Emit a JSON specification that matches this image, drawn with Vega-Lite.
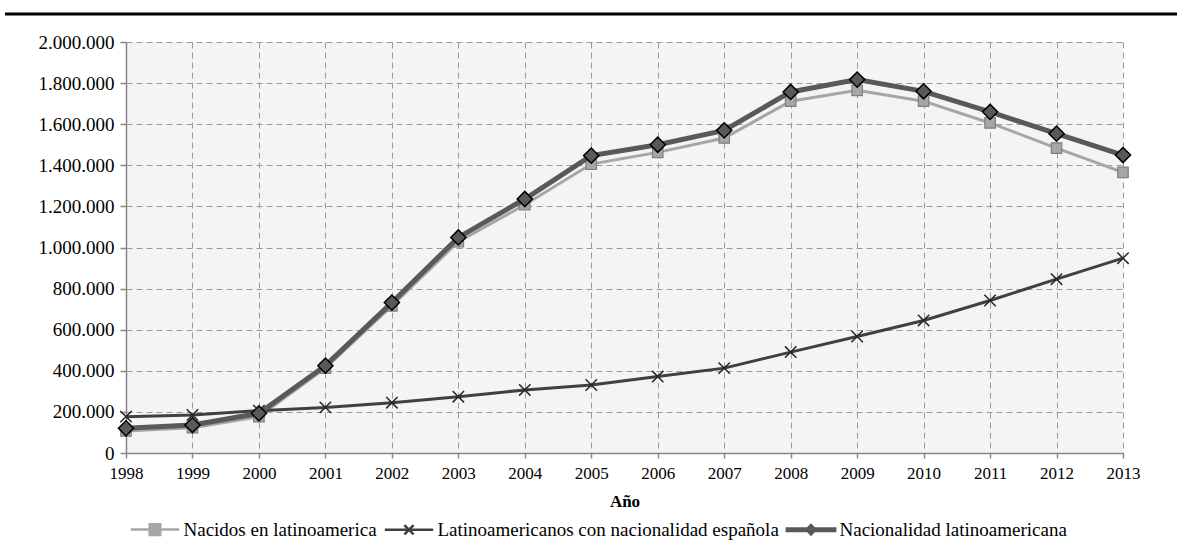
{
  "$schema": "https://vega.github.io/schema/vega-lite/v6.json",
  "width": 997,
  "height": 411,
  "autosize": "none",
  "padding": {"left": 126, "top": 42, "right": 54, "bottom": 102},
  "background": "#ffffff",
  "datasets": {
    "series": [
      {"anio": 1998, "serie": "Nacidos en latinoamerica", "valor": 107000},
      {"anio": 1999, "serie": "Nacidos en latinoamerica", "valor": 123000},
      {"anio": 2000, "serie": "Nacidos en latinoamerica", "valor": 177000},
      {"anio": 2001, "serie": "Nacidos en latinoamerica", "valor": 413000},
      {"anio": 2002, "serie": "Nacidos en latinoamerica", "valor": 716000},
      {"anio": 2003, "serie": "Nacidos en latinoamerica", "valor": 1028000},
      {"anio": 2004, "serie": "Nacidos en latinoamerica", "valor": 1208000},
      {"anio": 2005, "serie": "Nacidos en latinoamerica", "valor": 1406000},
      {"anio": 2006, "serie": "Nacidos en latinoamerica", "valor": 1463000},
      {"anio": 2007, "serie": "Nacidos en latinoamerica", "valor": 1533000},
      {"anio": 2008, "serie": "Nacidos en latinoamerica", "valor": 1712000},
      {"anio": 2009, "serie": "Nacidos en latinoamerica", "valor": 1765000},
      {"anio": 2010, "serie": "Nacidos en latinoamerica", "valor": 1712000},
      {"anio": 2011, "serie": "Nacidos en latinoamerica", "valor": 1606000},
      {"anio": 2012, "serie": "Nacidos en latinoamerica", "valor": 1484000},
      {"anio": 2013, "serie": "Nacidos en latinoamerica", "valor": 1366000},
      {"anio": 1998, "serie": "Latinoamericanos con nacionalidad española", "valor": 177000},
      {"anio": 1999, "serie": "Latinoamericanos con nacionalidad española", "valor": 185000},
      {"anio": 2000, "serie": "Latinoamericanos con nacionalidad española", "valor": 206000},
      {"anio": 2001, "serie": "Latinoamericanos con nacionalidad española", "valor": 222000},
      {"anio": 2002, "serie": "Latinoamericanos con nacionalidad española", "valor": 245000},
      {"anio": 2003, "serie": "Latinoamericanos con nacionalidad española", "valor": 274000},
      {"anio": 2004, "serie": "Latinoamericanos con nacionalidad española", "valor": 307000},
      {"anio": 2005, "serie": "Latinoamericanos con nacionalidad española", "valor": 331000},
      {"anio": 2006, "serie": "Latinoamericanos con nacionalidad española", "valor": 372000},
      {"anio": 2007, "serie": "Latinoamericanos con nacionalidad española", "valor": 413000},
      {"anio": 2008, "serie": "Latinoamericanos con nacionalidad española", "valor": 491000},
      {"anio": 2009, "serie": "Latinoamericanos con nacionalidad española", "valor": 567000},
      {"anio": 2010, "serie": "Latinoamericanos con nacionalidad española", "valor": 645000},
      {"anio": 2011, "serie": "Latinoamericanos con nacionalidad española", "valor": 742000},
      {"anio": 2012, "serie": "Latinoamericanos con nacionalidad española", "valor": 846000},
      {"anio": 2013, "serie": "Latinoamericanos con nacionalidad española", "valor": 948000},
      {"anio": 1998, "serie": "Nacionalidad latinoamericana", "valor": 120000},
      {"anio": 1999, "serie": "Nacionalidad latinoamericana", "valor": 136000},
      {"anio": 2000, "serie": "Nacionalidad latinoamericana", "valor": 193000},
      {"anio": 2001, "serie": "Nacionalidad latinoamericana", "valor": 425000},
      {"anio": 2002, "serie": "Nacionalidad latinoamericana", "valor": 732000},
      {"anio": 2003, "serie": "Nacionalidad latinoamericana", "valor": 1049000},
      {"anio": 2004, "serie": "Nacionalidad latinoamericana", "valor": 1236000},
      {"anio": 2005, "serie": "Nacionalidad latinoamericana", "valor": 1447000},
      {"anio": 2006, "serie": "Nacionalidad latinoamericana", "valor": 1500000},
      {"anio": 2007, "serie": "Nacionalidad latinoamericana", "valor": 1570000},
      {"anio": 2008, "serie": "Nacionalidad latinoamericana", "valor": 1757000},
      {"anio": 2009, "serie": "Nacionalidad latinoamericana", "valor": 1817000},
      {"anio": 2010, "serie": "Nacionalidad latinoamericana", "valor": 1760000},
      {"anio": 2011, "serie": "Nacionalidad latinoamericana", "valor": 1660000},
      {"anio": 2012, "serie": "Nacionalidad latinoamericana", "valor": 1554000},
      {"anio": 2013, "serie": "Nacionalidad latinoamericana", "valor": 1450000}
    ],
    "borde": [{"elemento": "linea superior"}]
  },
  "data": {"name": "series"},
  "layer": [
    {
      "data": {"name": "borde"},
      "mark": {"type": "rule", "color": "#000000", "strokeWidth": 3, "clip": false},
      "encoding": {
        "x": {"datum": 1996.18, "type": "quantitative", "scale": {"domain": [1998, 2013], "nice": false, "zero": false}, "title": "Año"},
        "x2": {"datum": 2016},
        "y": {"datum": 2136000, "type": "quantitative", "scale": {"domain": [0, 2000000], "nice": false}, "title": null}
      }
    },
    {
      "transform": [{"filter": {"field": "serie", "equal": "Nacidos en latinoamerica"}}],
      "mark": {"type": "line", "color": "#a6a6a6", "strokeWidth": 3},
      "encoding": {
        "x": {"field": "anio", "type": "quantitative", "title": "Año", "scale": {"domain": [1998, 2013], "nice": false, "zero": false},
          "axis": {"values": [1998,1999,2000,2001,2002,2003,2004,2005,2006,2007,2008,2009,2010,2011,2012,2013], "format": "d"}},
        "y": {"field": "valor", "type": "quantitative", "title": null, "scale": {"domain": [0, 2000000], "nice": false},
          "axis": {"values": [0,200000,400000,600000,800000,1000000,1200000,1400000,1600000,1800000,2000000], "format": ",d"}}
      }
    },
    {
      "transform": [{"filter": {"field": "serie", "equal": "Nacidos en latinoamerica"}}],
      "mark": {"type": "point", "shape": "square", "filled": true, "fill": "#a6a6a6", "stroke": "#7f7f7f", "strokeWidth": 1.2, "size": 110, "opacity": 1},
      "encoding": {
        "x": {"field": "anio", "type": "quantitative", "title": "Año"},
        "y": {"field": "valor", "type": "quantitative", "title": null}
      }
    },
    {
      "transform": [{"filter": {"field": "serie", "equal": "Latinoamericanos con nacionalidad española"}}],
      "mark": {"type": "line", "color": "#404040", "strokeWidth": 3},
      "encoding": {
        "x": {"field": "anio", "type": "quantitative", "title": "Año"},
        "y": {"field": "valor", "type": "quantitative", "title": null}
      }
    },
    {
      "transform": [{"filter": {"field": "serie", "equal": "Latinoamericanos con nacionalidad española"}}],
      "mark": {"type": "point", "shape": "M-1,-1L1,1M-1,1L1,-1", "filled": true, "fill": "transparent", "stroke": "#262626", "strokeWidth": 1.5, "size": 130, "opacity": 1},
      "encoding": {
        "x": {"field": "anio", "type": "quantitative", "title": "Año"},
        "y": {"field": "valor", "type": "quantitative", "title": null}
      }
    },
    {
      "transform": [{"filter": {"field": "serie", "equal": "Nacionalidad latinoamericana"}}],
      "mark": {"type": "line", "color": "#595959", "strokeWidth": 5},
      "encoding": {
        "x": {"field": "anio", "type": "quantitative", "title": "Año"},
        "y": {"field": "valor", "type": "quantitative", "title": null}
      }
    },
    {
      "transform": [{"filter": {"field": "serie", "equal": "Nacionalidad latinoamericana"}}],
      "mark": {"type": "point", "shape": "diamond", "filled": true, "fill": "#595959", "stroke": "#000000", "strokeWidth": 1.5, "size": 230, "opacity": 1},
      "encoding": {
        "x": {"field": "anio", "type": "quantitative", "title": "Año"},
        "y": {"field": "valor", "type": "quantitative", "title": null}
      }
    },
    {
      "mark": {"type": "point", "filled": true, "opacity": 0, "size": 484, "strokeWidth": 2.5},
      "encoding": {
        "x": {"field": "anio", "type": "quantitative", "title": "Año"},
        "y": {"field": "valor", "type": "quantitative", "title": null},
        "shape": {"field": "serie", "type": "nominal",
          "scale": {"domain": ["Nacidos en latinoamerica", "Latinoamericanos con nacionalidad española", "Nacionalidad latinoamericana"],
            "range": ["M-2.2,0H-0.5M0.5,0H2.2M-0.48,-0.48H0.48V0.48H-0.48Z", "M-2.2,0H2.2M-0.42,-0.42L0.42,0.42M-0.42,0.42L0.42,-0.42", "M-2.2,-0.11H-0.42V0.11H-2.2ZM0.42,-0.11H2.2V0.11H0.42ZM-0.42,0L0,-0.42L0.42,0L0,0.42Z"]},
          "legend": {"title": null, "orient": "bottom", "direction": "horizontal", "symbolSize": 484, "symbolStrokeWidth": 2.5, "symbolOpacity": 1, "symbolOffset": 11.5, "labelOffset": 16, "labelFont": "Liberation Serif", "labelFontSize": 19, "labelColor": "#000000", "labelLimit": 1000, "columnPadding": 2, "offset": 3, "padding": 5}
        },
        "fill": {"field": "serie", "type": "nominal",
          "scale": {"domain": ["Nacidos en latinoamerica", "Latinoamericanos con nacionalidad española", "Nacionalidad latinoamericana"], "range": ["#a6a6a6", "transparent", "#595959"]},
          "legend": {"title": null, "orient": "bottom", "direction": "horizontal", "symbolSize": 484, "symbolStrokeWidth": 2.5, "symbolOpacity": 1, "symbolOffset": 11.5, "labelOffset": 16, "labelFont": "Liberation Serif", "labelFontSize": 19, "labelColor": "#000000", "labelLimit": 1000, "columnPadding": 2, "offset": 3, "padding": 5}
        },
        "stroke": {"field": "serie", "type": "nominal",
          "scale": {"domain": ["Nacidos en latinoamerica", "Latinoamericanos con nacionalidad española", "Nacionalidad latinoamericana"], "range": ["#a6a6a6", "#404040", "#595959"]},
          "legend": {"title": null, "orient": "bottom", "direction": "horizontal", "symbolSize": 484, "symbolStrokeWidth": 2.5, "symbolOpacity": 1, "symbolOffset": 11.5, "labelOffset": 16, "labelFont": "Liberation Serif", "labelFontSize": 19, "labelColor": "#000000", "labelLimit": 1000, "columnPadding": 2, "offset": 3, "padding": 5}
        }
      }
    }
  ],
  "config": {
    "locale": {"number": {"decimal": ",", "thousands": ".", "grouping": [3], "currency": ["", " €"]}},
    "view": {"fill": "#f4f4f4", "stroke": null},
    "axis": {
      "gridColor": "#9a9a9a", "gridDash": [6, 4], "gridWidth": 1, "grid": true,
      "domainColor": "#868686", "domainWidth": 1.5, "tickColor": "#868686", "tickWidth": 1.5,
      "labelFont": "Liberation Serif", "labelColor": "#000000",
      "titleFont": "Liberation Serif", "titleColor": "#000000"
    },
    "axisX": {"labelFontSize": 17, "tickSize": 5, "labelPadding": 7, "titleFontSize": 17, "titleFontWeight": "bold", "titlePadding": 12, "labelFlush": false, "labelOverlap": false},
    "axisY": {"labelFontSize": 19, "tickSize": 6, "labelPadding": 6}
  }
}
